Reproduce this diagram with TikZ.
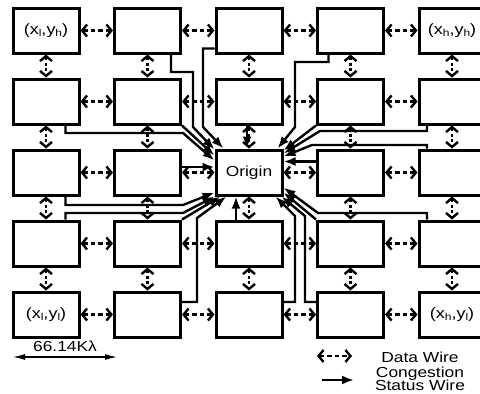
\documentclass[tikz,border=0pt]{standalone}
\usepackage{fontspec}
\newfontfamily\diagfont{Liberation Sans}[FakeStretch=1.2]
\usetikzlibrary{arrows.meta}
\newcommand{\lo}[1]{\raisebox{-0.3ex}{\fontsize{10}{10}\selectfont #1}}

\begin{document}
\begin{tikzpicture}[x=1pt,y=-1pt,
  every node/.style={font=\diagfont\fontsize{14.5}{16}\selectfont},
  cell/.style={draw,fill=white,line width=3pt,minimum width=66pt,minimum height=45pt,inner sep=0pt},
  barbs/.style={{Straight Barb[length=5pt,width=12pt]}-{Straight Barb[length=5pt,width=12pt]}},
  dataw/.style={barbs,line width=2.4pt,dash pattern=on 4.5pt off 3pt},
  datav/.style={barbs,line width=2.4pt,dash pattern=on 3pt off 2.5pt},
  status/.style={line width=2.4pt,-{Latex[length=12pt,width=9pt]}},
  scalebar/.style={line width=1.2pt,{Latex[length=12pt,width=6pt]}-{Latex[length=12pt,width=6pt]}}]

  \useasboundingbox (0,0) rectangle (480,394);
  \fill[white] (0,0) rectangle (480,394);
  \clip (0,0) rectangle (480,394);

  % tiles
  \foreach \c in {1,...,5}{
    \foreach \r in {1,...,5}{
      \node[cell] (n\c\r) at ({46+101.5*(\c-1)},{30.5+71*(\r-1)}) {};
    }
  }
  \node (lblorigin) at (n33) {Origin};
  \node[font=\diagfont\fontsize{15}{16}\selectfont] (lblxlyh) at (n11) {(x\lo{l},y\lo{h})};
  \node[font=\diagfont\fontsize{15}{16}\selectfont] (lblxhyh) at (n51) {(x\lo{h},y\lo{h})};
  \node[font=\diagfont\fontsize{15}{16}\selectfont] (lblxlyl) at (n15) {(x\lo{l},y\lo{l})};
  \node[font=\diagfont\fontsize{15}{16}\selectfont] (lblxhyl) at (n55) {(x\lo{h},y\lo{l})};

  % data wires
  \foreach \r in {1,...,5}{
    \foreach \c/\d in {1/2,2/3,3/4,4/5}{
      \draw[dataw] (n\c\r.east) -- (n\d\r.west);
    }
  }
  \foreach \c in {1,...,5}{
    \foreach \r/\s in {1/2,2/3,3/4,4/5}{
      \draw[datav] (n\c\r.south) -- (n\c\s.north);
    }
  }

  % congestion status wires, top-left
  \draw[status] ([xshift=-11pt]n21.south east) |- (193,72) -- (193,127) -- ([yshift=-1pt]n33.north west);
  \draw[status] ([yshift=6pt]n31.south west) -| (203,127) -- ([xshift=9pt]n33.north west);
  \draw[status] (n22.south east) -- ([yshift=-7pt]n33.north west);
  \draw[status] ([xshift=-15pt]n12.south east) |- (183,133) -- ([yshift=-12pt]n33.north west);
  % direct neighbours
  \draw[status] ([xshift=-2pt]n32.south) -- ([xshift=-2pt]n33.north);
  \draw[status] ([yshift=5.5pt]n23.east) -- ([yshift=5.5pt]n33.west);
  \draw[status] ([yshift=11pt]n43.west) -- ([yshift=11pt]n33.east);
  \draw[status] ([xshift=-13pt]n34.north) -- ([xshift=-13pt]n33.south);
  % top-right
  \draw[status] ([xshift=-22pt]n41.south) |- (295,62) -- (295,127) -- ([xshift=-6pt]n33.north east);
  \draw[status] (n42.south west) -- ([yshift=-2pt]n33.north east);
  \draw[status] ([xshift=-25pt]n52.south) |- (320,131) -- ([yshift=-5pt]n33.north east);
  \draw[status] ([xshift=-25pt]n53.north) |- (312,145) -- ([yshift=-8pt]n33.north east);
  % bottom-left
  \draw[status] ([xshift=-15pt]n13.south east) |- (183,205) -- ([yshift=4pt]n33.south west);
  \draw[status] ([xshift=-15pt]n14.north east) |- (183,213) -- (n33.south west);
  \draw[status] (n24.north east) -- ([xshift=6pt]n33.south west);
  \draw[status] ([yshift=12.5pt]n25.east) -| (197,218) -- ([xshift=12pt]n33.south west);
  % bottom-right
  \draw[status] ([yshift=12.5pt]n35.east) -| (295,216) -- ([xshift=-8pt]n33.south east);
  \draw[status] ([yshift=12.5pt]n45.west) -| (305,216) -- ([xshift=-2pt]n33.south east);
  \draw[status] (n44.north west) -- ([yshift=4pt]n33.south east);
  \draw[status] ([xshift=-25pt]n54.north) |- (318,213) -- ([yshift=9pt]n33.south east);

  % scale bar
  \coordinate (sbl) at (13,357);
  \coordinate (sbr) at (117,357);
  \draw[scalebar] (sbl) -- (sbr) node[midway,above=1pt] (sblbl) {66.14Kλ};

  % legend
  \coordinate (dwa) at (317,356);
  \coordinate (dwb) at (352,356);
  \draw[dataw] (dwa) -- (dwb);
  \coordinate (swa) at (322,380);
  \coordinate (swb) at (354,380);
  \draw[status] (swa) -- (swb);
  \node[anchor=base] (lgddata) at (420,362) {Data Wire};
  \node[anchor=base] (lgdcong) at (420,377) {Congestion};
  \node[anchor=base] (lgdstat) at (420,390) {Status Wire};

\end{tikzpicture}
\end{document}
